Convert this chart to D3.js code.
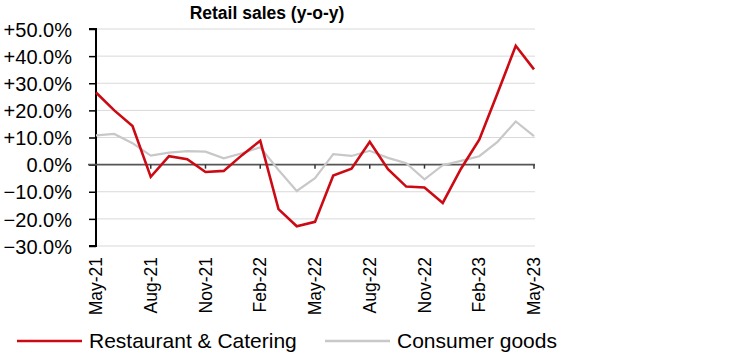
<!DOCTYPE html>
<html>
<head>
<meta charset="utf-8">
<style>
  body { margin: 0; background: #fff; }
  svg { display: block; font-family: "Liberation Sans", Arial, sans-serif; }
  .grid line { stroke: #d9d9d9; stroke-width: 1px; }
  .yAxis text { font-size: 20px; fill: #000; }
  .xLabels text { font-size: 17.5px; fill: #000; }
  .legend text { font-size: 21px; fill: #000; }
</style>
</head>
<body>
<div class="chart"></div>
<script src="https://d3js.org/d3.v7.min.js"></script>
<script>
  // 月份
  const months = ["May-21","Jun-21","Jul-21","Aug-21","Sep-21","Oct-21","Nov-21","Dec-21",
                  "Jan-22","Feb-22","Mar-22","Apr-22","May-22","Jun-22","Jul-22","Aug-22",
                  "Sep-22","Oct-22","Nov-22","Dec-22","Jan-23","Feb-23","Mar-23","Apr-23","May-23"];

  // 餐飲
  const catering = [26.6, 20.0, 14.2, -4.5, 3.1, 2.0, -2.7, -2.3,
                    3.5, 8.8, -16.4, -22.7, -21.1, -4.0, -1.5, 8.4,
                    -1.7, -8.1, -8.4, -14.1, -1.5, 9.2, 26.3, 43.8, 35.1];

  // 商品零售
  const goods = [10.8, 11.3, 7.9, 3.3, 4.4, 5.0, 4.8, 2.3,
                 4.2, 6.4, -2.0, -9.7, -5.0, 3.9, 3.2, 5.1,
                 2.5, 0.5, -5.4, -0.2, 1.4, 3.1, 8.4, 15.9, 10.5];

  const yTicks = [-30, -20, -10, 0, 10, 20, 30, 40, 50];
  const seriesNames = ["Restaurant & Catering", "Consumer goods"];
  const seriesColors = ["#cc0a14", "#c8c8c8"];

  const width = 736, height = 354;
  const plotL = 96, plotR = 534, plotT = 29, plotB = 246;

  const svg = d3.select(".chart").append("svg")
      .attr("width", width)
      .attr("height", height);

  const x = d3.scaleLinear().domain([0, months.length - 1]).range([plotL, plotR]);
  const y = d3.scaleLinear().domain([-30, 50]).range([plotB, plotT]);

  // 標題
  svg.append("text")
      .attr("x", 267)
      .attr("y", 19)
      .attr("text-anchor", "middle")
      .style("font-size", "17.5px")
      .style("font-weight", "bold")
      .text("Retail sales (y-o-y)");

  // 格線
  svg.append("g").attr("class", "grid")
    .selectAll("line")
    .data(yTicks.filter(d => d !== 0))
    .enter().append("line")
      .attr("x1", plotL).attr("x2", plotR + 1)
      .attr("y1", d => y(d)).attr("y2", d => y(d));

  // y軸
  const yAxis = svg.append("g")
      .attr("class", "yAxis")
      .attr("transform", `translate(${plotL},0)`)
      .call(d3.axisLeft(y).tickValues(yTicks).tickSize(7).tickPadding(17)
        .tickFormat(d => (d > 0 ? "+" : "") + d3.format(".1f")(d) + "%"));
  yAxis.select(".domain").attr("stroke", "#000").attr("stroke-width", 2)
      .attr("d", `M-7,${y(50)}H0V${y(-30)}H-7`);
  yAxis.selectAll(".tick line").attr("stroke", "#000").attr("stroke-width", 1.5);
  yAxis.selectAll("text").attr("dy", "0.36em");

  // 零軸
  svg.append("line")
      .attr("x1", plotL - 8).attr("x2", plotR + 1)
      .attr("y1", y(0)).attr("y2", y(0))
      .attr("stroke", "#555").attr("stroke-width", 1.6);

  const tickIdx = d3.range(3, months.length, 3);
  svg.append("g").selectAll("line")
    .data(tickIdx)
    .enter().append("line")
      .attr("x1", d => x(d)).attr("x2", d => x(d))
      .attr("y1", y(0)).attr("y2", y(0) + 4)
      .attr("stroke", "#333").attr("stroke-width", 1.5);

  // x標籤
  svg.append("g").attr("class", "xLabels")
    .selectAll("text")
    .data(d3.range(0, months.length, 3))
    .enter().append("text")
      .attr("transform", d => `translate(${x(d)},${plotB + 11}) rotate(-90)`)
      .attr("text-anchor", "end")
      .attr("dy", "0.35em")
      .text(d => months[d]);

  // 線
  const line = d3.line().x((d, i) => x(i)).y(d => y(d));

  svg.append("path")
      .datum(goods)
      .attr("fill", "none")
      .attr("stroke", seriesColors[1])
      .attr("stroke-width", 2.2)
      .attr("d", line);

  svg.append("path")
      .datum(catering)
      .attr("fill", "none")
      .attr("stroke", seriesColors[0])
      .attr("stroke-width", 2.6)
      .attr("d", line);

  // 圖例
  const legendX = [17, 325];
  const legend = svg.append("g").attr("class", "legend")
    .selectAll("g")
    .data(seriesNames)
    .enter().append("g")
      .attr("transform", (d, i) => `translate(${legendX[i]},341)`);
  legend.append("line")
      .attr("x1", 0).attr("x2", 65)
      .attr("stroke", (d, i) => seriesColors[i])
      .attr("stroke-width", 2.5);
  legend.append("text")
      .attr("x", 72)
      .attr("dy", "0.35em")
      .text(d => d);
</script>
</body>
</html>
